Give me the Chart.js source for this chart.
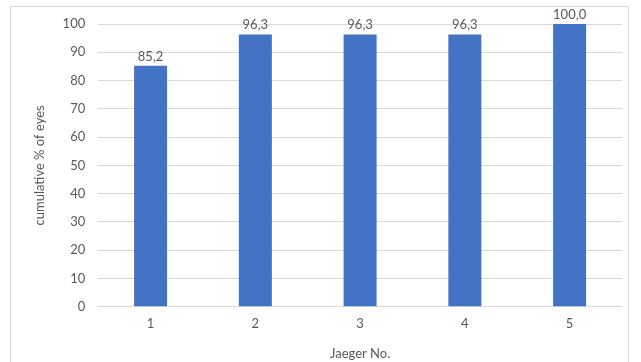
<!DOCTYPE html>
<html>
<head>
<meta charset="utf-8">
<script src="https://cdn.jsdelivr.net/npm/chart.js@4"></script>
<style>
  html, body { margin: 0; padding: 0; background: #fff; }
  #wrap { position: relative; width: 641px; height: 362px; }
  #frame { position: absolute; left: 10px; top: 6px; width: 619px; height: 360px; border: 1px solid #d9d9d9; box-sizing: border-box; }
  canvas { position: absolute; left: 0; top: 0; }
</style>
</head>
<body>
<div id="wrap">
  <div id="frame"></div>
  <canvas id="chart" width="641" height="362"></canvas>
</div>
<script>
var categories = ["1", "2", "3", "4", "5"];
var values = [85.2, 96.3, 96.3, 96.3, 100.0];
var yTicks = [0, 10, 20, 30, 40, 50, 60, 70, 80, 90, 100];

var textColor = '#595959';
var fontFamily = 'Lato, "Open Sans", sans-serif';

// draws the value over each bar, comma decimal like the original
var barLabels = {
    id: 'barLabels',
    afterDatasetsDraw: function (chart) {
        var ctx = chart.ctx;
        var meta = chart.getDatasetMeta(0);
        ctx.save();
        ctx.font = '13px ' + fontFamily;
        ctx.fillStyle = textColor;
        ctx.textAlign = 'center';
        ctx.textBaseline = 'bottom';
        for (var i = 0; i < meta.data.length; i++) {
            var bar = meta.data[i];
            var txt = values[i].toFixed(1).replace('.', ',');
            ctx.fillText(txt, bar.x, bar.y - 3);
        }
        ctx.restore();
    }
};

var ctx = document.getElementById('chart').getContext('2d');
var myChart = new Chart(ctx, {
    type: 'bar',
    data: {
        labels: categories,
        datasets: [{
            data: values,
            backgroundColor: '#4472c4',
            borderWidth: 0,
            barPercentage: 0.315,
            categoryPercentage: 1.0
        }]
    },
    options: {
        responsive: false,
        animation: false,
        layout: { padding: { left: 32, right: 19, top: 24, bottom: 0 } },
        plugins: {
            legend: { display: false },
            tooltip: { enabled: false }
        },
        scales: {
            x: {
                grid: { display: false, drawTicks: false },
                border: { display: false },
                ticks: { color: textColor, font: { family: fontFamily, size: 13 }, padding: 9 },
                title: { display: true, text: 'Jaeger No.', color: textColor, font: { family: fontFamily, size: 13 }, padding: { top: 6, bottom: 0 } }
            },
            y: {
                min: 0,
                max: 100,
                afterBuildTicks: function (axis) {
                    axis.ticks = yTicks.map(function (v) { return { value: v }; });
                },
                grid: { color: '#d9d9d9', drawTicks: false },
                border: { display: false },
                ticks: { color: textColor, font: { family: fontFamily, size: 13 }, padding: 13 },
                title: { display: true, text: 'cumulative % of eyes', color: textColor, font: { family: fontFamily, size: 13 }, padding: { top: 0, bottom: 2 } }
            }
        }
    },
    plugins: [barLabels]
});
</script>
</body>
</html>
